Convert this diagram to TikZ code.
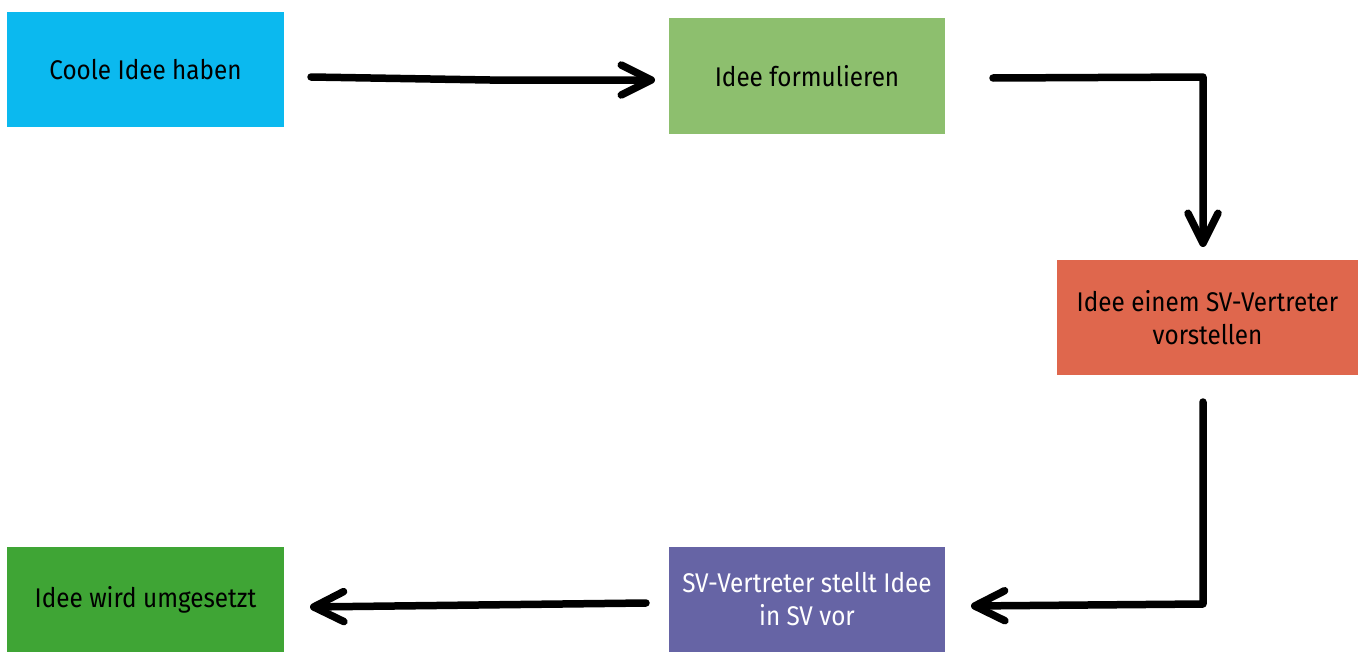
\documentclass[tikz,border=0pt]{standalone}
\usepackage{fontspec}
\setmainfont[FakeStretch=0.9]{Fira Sans}
\usetikzlibrary{arrows.meta}
\definecolor{cBlue}{HTML}{0BB9EF}
\definecolor{cLGreen}{HTML}{8DBF6E}
\definecolor{cRed}{HTML}{DF674D}
\definecolor{cPurple}{HTML}{6664A5}
\definecolor{cGreen}{HTML}{3FA535}
\begin{document}
\begin{tikzpicture}[x=1pt,y=-1pt,
  box/.style={draw=none,minimum height=115pt,inner sep=0pt,align=center,
    font=\fontsize{27}{33}\selectfont},
  conn/.style={line width=7.5pt,line cap=round,line join=round,
    -{Straight Barb[length=30pt,width=30pt,line cap=round,line join=round]}}]
\useasboundingbox (0,0) rectangle (1363,653);
\node[box,fill=cBlue,minimum width=277pt] (a) at (145.5,69.5) {Coole Idee haben};
\node[box,fill=cLGreen,minimum width=276pt,minimum height=116pt] (b) at (807,76) {Idee formulieren};
\node[box,fill=cRed,minimum width=301pt] (c) at (1207.5,317.5) {Idee einem SV-Vertreter\\vorstellen};
\node[box,fill=cPurple,text=white,minimum width=276pt,minimum height=105pt] (d) at (807,599.5) {SV-Vertreter stellt Idee\\in SV vor};
\node[box,fill=cGreen,minimum width=277pt,minimum height=105pt] (e) at (145.5,599.5) {Idee wird umgesetzt};
\coordinate (a1) at (311,77);
\coordinate (a2) at (655,80);
\coordinate (b1) at (993,78);
\coordinate (b2) at (1203,247);
\coordinate (c1) at (1203,402);
\coordinate (c2) at (971,606);
\coordinate (d1) at (646,603);
\coordinate (d2) at (310,607);
\draw[conn] (a1) -- (490,80) -- (a2);
\draw[conn] (b1) -- (1203,77) -- (b2);
\draw[conn] (c1) -- (1203,604) -- (c2);
\draw[conn] (d1) -- (d2);
\end{tikzpicture}
\end{document}
